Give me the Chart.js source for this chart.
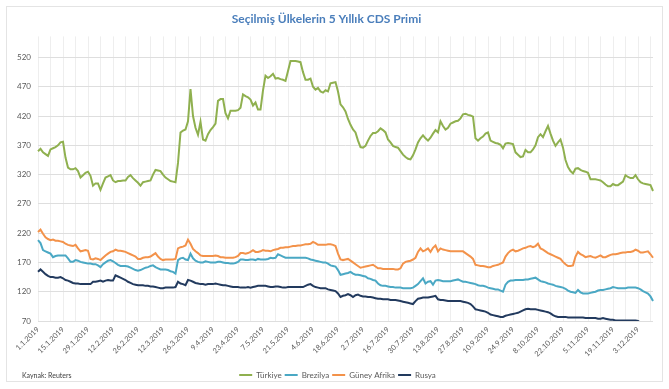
<!DOCTYPE html>
<html>
<head>
<meta charset="utf-8">
<script src="https://cdn.jsdelivr.net/npm/chart.js@4.4.0/dist/chart.umd.min.js"></script>
<style>
  html, body { margin: 0; padding: 0; background: #fff; }
  #wrap { position: relative; width: 669px; height: 389px; }
  #frame { position: absolute; left: 6px; top: 6px; width: 655px; height: 374px; border: 1px solid #e4e4e4; }
  #chart { position: absolute; left: 0; top: 0; }
  #source { position: absolute; left: 22px; top: 371px; font: 7px Lato, sans-serif; color: #404040; }
</style>
</head>
<body>
<div id="wrap">
  <div id="frame"></div>
  <canvas id="chart" width="669" height="389"></canvas>
  <div id="source">Kaynak: Reuters</div>
</div>
<script>
// visible x labels (every 10 business days)
const tickLabels = ['1.1.2019','15.1.2019','29.1.2019','12.2.2019','26.2.2019','12.3.2019','26.3.2019',
  '9.4.2019','23.4.2019','7.5.2019','21.5.2019','4.6.2019','18.6.2019','2.7.2019','16.7.2019','30.7.2019',
  '13.8.2019','27.8.2019','10.9.2019','24.9.2019','8.10.2019','22.10.2019','5.11.2019','19.11.2019','3.12.2019'];
const yTicks = [70, 120, 170, 220, 270, 320, 370, 420, 470, 520];

const turkiye = [
  360,364,358,355,352,363,365,367,370,375,
  376,349,332,329,329,331,326,315,319,323,
  325,318,301,305,305,294,305,315,317,319,
  310,307,309,309,310,310,316,319,314,310,
  306,301,307,308,309,310,320,328,327,326,
  320,315,312,309,308,307,340,392,395,397,
  411,466,420,400,388,410,380,378,389,396,
  401,407,446,449,449,425,416,429,429,429,
  430,434,457,454,452,448,438,443,431,431,
  464,489,485,488,492,484,485,483,482,480,
  497,514,514,514,513,512,495,482,482,484,
  470,465,468,462,460,464,462,476,477,478,
  462,440,435,428,415,405,397,392,378,367,
  366,369,378,386,391,391,394,399,396,392,
  380,375,369,367,366,360,354,350,347,346,
  353,363,375,382,387,382,378,383,390,396,
  392,411,403,397,400,407,409,411,412,416,
  423,424,422,421,419,382,378,382,385,390,
  392,378,376,374,373,371,365,373,374,373,
  372,358,354,350,351,362,358,358,363,370,
  384,389,384,394,403,390,378,369,375,380,
  366,345,333,326,322,330,331,328,326,325,
  323,312,312,312,311,310,307,303,300,300,
  304,302,302,305,308,319,316,314,314,319,
  312,307,305,304,303,302,292];

const brezilya = [
  208,203,191,189,187,185,179,181,182,182,
  182,182,177,171,171,174,173,171,170,169,
  168,168,167,167,165,162,167,170,173,174,
  172,169,166,164,164,164,163,161,159,157,
  156,157,159,161,162,164,165,162,160,158,
  158,158,157,155,154,151,174,177,178,175,
  174,185,177,173,171,170,170,172,171,170,
  170,170,171,171,170,169,169,168,168,169,
  171,175,175,174,174,175,175,174,176,175,
  175,175,176,178,177,178,184,182,180,178,
  178,178,178,178,178,178,178,178,177,175,
  174,173,172,171,170,170,168,165,164,163,
  157,149,150,151,152,154,151,149,149,148,
  147,146,143,142,140,139,134,131,130,130,
  129,128,128,127,127,127,126,126,126,126,
  127,130,133,138,143,134,137,138,132,139,
  140,139,138,138,138,138,139,140,141,139,
  137,137,136,135,134,133,131,130,130,129,
  127,126,125,124,124,122,120,132,137,139,
  139,140,140,140,140,141,141,142,143,144,
  141,138,137,136,134,133,132,130,129,128,
  127,125,122,120,119,118,123,119,117,117,
  117,118,119,120,122,123,123,124,125,126,
  128,127,126,126,126,126,127,127,127,127,
  126,124,121,119,117,112,104];

const guneyAfrika = [
  222,226,219,213,210,208,209,207,207,206,
  205,202,200,199,198,200,194,189,190,191,
  190,176,175,177,176,174,178,182,185,188,
  189,192,190,190,189,188,186,184,182,180,
  176,176,178,179,179,180,183,186,180,176,
  174,175,175,175,175,176,194,196,197,199,
  209,202,193,189,186,182,181,181,181,181,
  181,182,181,179,179,178,178,178,178,179,
  181,186,186,185,186,188,191,188,188,189,
  191,190,190,189,191,192,193,195,195,196,
  196,197,198,198,199,199,200,201,201,202,
  205,203,200,200,200,200,201,201,200,198,
  185,175,174,175,176,173,170,167,164,161,
  162,163,164,165,166,163,160,160,159,159,
  159,159,159,158,158,160,168,171,172,173,
  175,178,188,194,189,191,194,188,195,199,
  189,194,192,191,190,189,189,189,189,189,
  189,186,183,180,176,166,165,164,164,163,
  162,162,164,165,166,168,170,180,186,190,
  192,189,190,192,194,195,197,198,196,198,
  202,194,192,189,186,184,182,180,178,176,
  171,167,164,164,165,180,188,184,182,179,
  180,181,179,178,180,182,179,179,181,183,
  184,184,185,186,187,187,188,188,189,192,
  190,187,187,188,189,184,178];

const rusya = [
  154,158,154,150,147,145,145,144,144,145,
  143,140,139,137,135,134,134,133,133,133,
  133,133,137,137,138,139,137,139,140,139,
  139,148,146,144,142,140,137,135,133,132,
  131,131,131,130,130,129,129,128,127,126,
  126,127,127,127,127,128,137,134,133,131,
  140,139,137,135,134,133,133,132,133,133,
  133,134,133,132,131,131,130,129,128,128,
  128,127,127,127,128,127,128,129,130,130,
  130,130,129,128,128,129,129,128,127,127,
  128,128,128,128,128,128,128,130,132,133,
  130,128,127,126,126,126,124,123,122,121,
  117,111,113,114,116,114,111,114,115,113,
  112,112,111,111,110,109,108,108,107,107,
  107,106,106,106,105,104,103,102,101,100,
  99,104,108,109,110,110,110,111,112,113,
  107,106,106,105,104,104,104,104,104,104,
  103,102,101,99,95,90,89,88,87,86,
  84,81,80,79,78,77,77,79,80,81,
  82,83,84,86,88,90,91,90,90,90,
  89,88,87,86,85,83,80,78,77,77,
  77,77,76,76,76,76,76,76,76,75,
  75,75,75,75,74,74,75,74,73,72,
  72,71,71,71,71,71,71,71,71,71,
  70,67,67,66,66,66,66];

// business-day categories starting 1.1.2019
const categories = [];
let d = new Date(2019, 0, 1);
while (categories.length < turkiye.length) {
  const wd = d.getDay();
  if (wd !== 0 && wd !== 6) categories.push(d.getDate() + '.' + (d.getMonth() + 1) + '.' + d.getFullYear());
  d.setDate(d.getDate() + 1);
}

const txt = '#595959';
const font = 'Lato, sans-serif';

function line(label, data, color) {
  return {
    label: label, data: data,
    borderColor: color, backgroundColor: color,
    borderWidth: 2, pointRadius: 0, tension: 0
  };
}

// legend in the original sits a bit right of centre
const shiftLegend = {
  id: 'shiftLegend',
  afterLayout(chart) {
    chart.legend.left += 11;
    chart.legend.right += 11;
  }
};

new Chart(document.getElementById('chart'), {
  type: 'line',
  data: {
    labels: categories,
    datasets: [
      line('Türkiye', turkiye, '#8fb04f'),
      line('Brezilya', brezilya, '#4aa8c4'),
      line('Güney Afrika', guneyAfrika, '#f3924a'),
      line('Rusya', rusya, '#223a5e')
    ]
  },
  plugins: [shiftLegend],
  options: {
    responsive: false,
    animation: false,
    layout: { padding: { left: 0, right: 16, top: 0, bottom: 0 } },
    plugins: {
      title: {
        display: true,
        text: 'Seçilmiş Ülkelerin 5 Yıllık CDS Primi',
        color: '#4a7ebb',
        font: { family: font, size: 12, weight: 'bold' },
        padding: { top: 12, bottom: 10 }
      },
      legend: {
        position: 'bottom',
        labels: {
          usePointStyle: true, pointStyle: 'line', pointStyleWidth: 13,
          color: txt, font: { family: font, size: 8 }, padding: 3
        }
      },
      tooltip: { enabled: false }
    },
    scales: {
      x: {
        offset: false,
        grid: {
          color: (c) => (c.index % 5 === 0 ? '#eeeeee' : 'rgba(0,0,0,0)'),
          drawTicks: false
        },
        border: { display: false },
        ticks: {
          autoSkip: false, minRotation: 45, maxRotation: 45, padding: 4,
          color: txt, font: { family: font, size: 7.5 },
          callback: (v, i) => (i % 10 === 0 ? tickLabels[i / 10] : '')
        },
        afterFit: (s) => { s.height = 47; }
      },
      y: {
        min: 70, max: 556,
        grid: { color: '#dedede', drawTicks: false },
        border: { display: false },
        ticks: { padding: 7, color: txt, font: { family: font, size: 8 } },
        afterBuildTicks: (s) => { s.ticks = yTicks.map((v) => ({ value: v })); },
        afterFit: (s) => { s.width = 38; }
      }
    }
  }
});
</script>
</body>
</html>
